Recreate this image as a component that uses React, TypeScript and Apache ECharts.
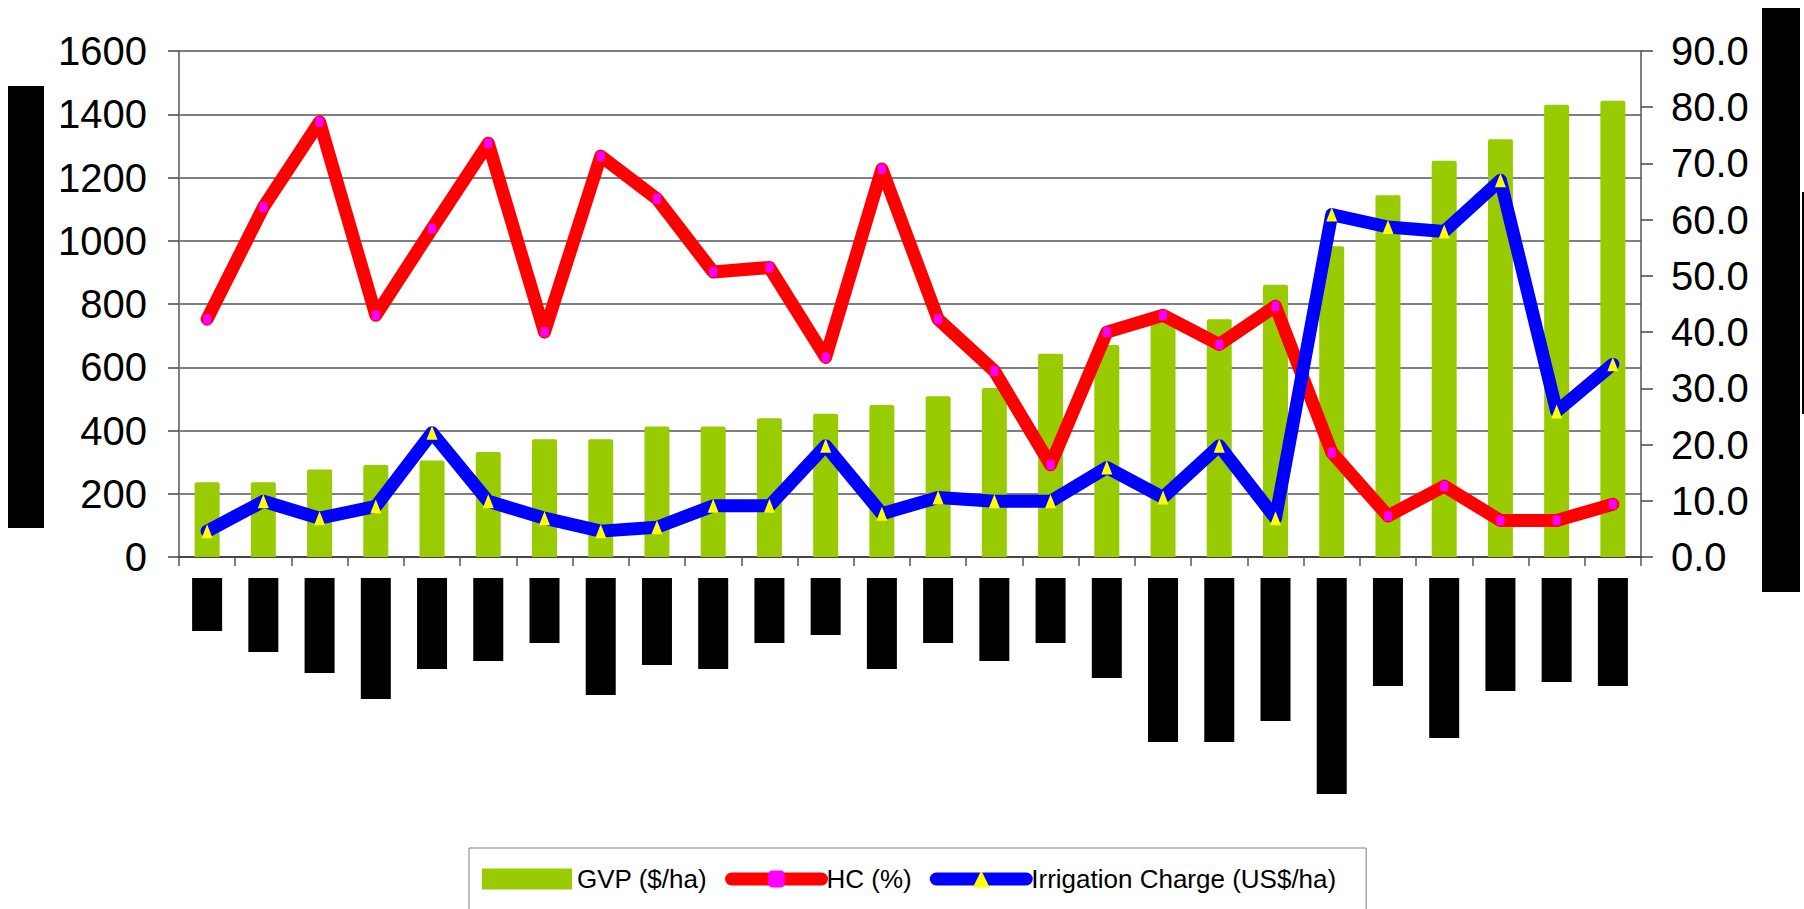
import React, { useEffect, useRef } from "react";
import * as echarts from "echarts";

// Categories (their real names are hidden behind black boxes in the reference)
const categories = [
  "C1", "C2", "C3", "C4", "C5", "C6", "C7", "C8", "C9", "C10", "C11", "C12", "C13",
  "C14", "C15", "C16", "C17", "C18", "C19", "C20", "C21", "C22", "C23", "C24", "C25", "C26",
];
// GVP ($/ha) — left axis
const gvp = [236, 236, 277, 291, 305, 332, 372, 372, 413, 413, 439, 453, 481, 508, 534, 643, 670, 745, 752, 861, 983, 1144, 1253, 1321, 1430, 1443];
// HC (%) — right axis
const hc = [42.3, 62.2, 77.4, 43.0, 58.4, 73.6, 40.0, 71.3, 63.7, 50.7, 51.5, 35.5, 69.0, 42.3, 33.1, 16.4, 40.0, 43.0, 37.8, 44.6, 18.6, 7.3, 12.6, 6.5, 6.5, 9.4];
// Irrigation Charge (US$/ha) — right axis
const irrigation = [4.6, 9.9, 6.9, 9.0, 22.1, 9.9, 6.9, 4.6, 5.3, 9.1, 9.1, 19.8, 7.7, 10.6, 9.9, 9.9, 15.9, 10.6, 19.8, 6.9, 60.9, 58.7, 57.9, 67.0, 25.9, 34.3];
// Lengths of the redacted (blacked-out) category labels
const labelLengths = [53, 74, 95, 121, 91, 83, 65, 117, 87, 91, 65, 57, 91, 65, 83, 65, 100, 164, 164, 143, 216, 108, 160, 113, 104, 108];

const seriesNames = ["GVP ($/ha)", "HC (%)", "Irrigation Charge (US$/ha)"];
const leftTicks = { min: 0, max: 1600, interval: 200 };
const rightTicks = { min: 0, max: 90, interval: 10 };

const FONT = "'Liberation Sans Narrow', 'Arial Narrow', 'Liberation Sans', Arial, sans-serif";

export default function App() {
  const ref = useRef<HTMLDivElement>(null);

  useEffect(() => {
    document.body.style.margin = "0";
    if (!ref.current) return;
    const chart = echarts.init(ref.current, undefined, { renderer: "svg" });

    const rich: Record<string, any> = {};
    labelLengths.forEach((len, i) => {
      rich["c" + i] = {
        width: len,
        height: 30,
        lineHeight: 30,
        backgroundColor: "#000",
        color: "#000",
        fontSize: 12,
        fontFamily: FONT,
      };
    });

    const option: any = {
      animation: false,
      backgroundColor: "#fff",
      textStyle: { fontFamily: FONT },
      grid: { left: 179, right: 163, top: 51, bottom: 352, containLabel: false },
      graphic: [
        { type: "rect", shape: { x: 8, y: 86, width: 36, height: 442 }, style: { fill: "#000" } },
        { type: "rect", shape: { x: 1762, y: 8, width: 38, height: 584 }, style: { fill: "#000" } },
        { type: "rect", shape: { x: 1802, y: 192, width: 2, height: 222 }, style: { fill: "#000" } },
      ],
      legend: {
        left: 469,
        top: 848,
        padding: [18, 30, 40, 13],
        borderColor: "#808080",
        borderWidth: 1,
        backgroundColor: "#fff",
        itemWidth: 90,
        itemHeight: 21,
        itemGap: 18,
        textStyle: { fontSize: 26, color: "#000", fontFamily: FONT },
        data: [
          { name: seriesNames[0], icon: "rect" },
          { name: seriesNames[1], lineStyle: { width: 13, cap: "round", color: "#FF0000" } },
          { name: seriesNames[2], lineStyle: { width: 13, cap: "round", color: "#0000FF" } },
        ],
      },
      xAxis: {
        type: "category",
        data: categories,
        boundaryGap: true,
        axisLine: { show: true, lineStyle: { color: "#333", width: 1.5 } },
        axisTick: { show: true, length: 9, inside: false, alignWithLabel: false, lineStyle: { color: "#555", width: 1.5 } },
        axisLabel: {
          interval: 0,
          rotate: 90,
          margin: 21,
          formatter: (value: string, index: number) => `{c${index}|${value}}`,
          rich,
        },
        splitLine: { show: false },
      },
      yAxis: [
        {
          type: "value",
          position: "left",
          min: leftTicks.min,
          max: leftTicks.max,
          interval: leftTicks.interval,
          axisLine: { show: true, lineStyle: { color: "#808080", width: 2 } },
          axisTick: { show: true, length: 11, inside: false, lineStyle: { color: "#444", width: 1.5 } },
          axisLabel: {
            fontSize: 40,
            color: "#000",
            margin: 32,
            fontFamily: FONT,
            formatter: (v: number) => String(v),
          },
          splitLine: { show: true, lineStyle: { color: "#555", width: 1.5 } },
        },
        {
          type: "value",
          position: "right",
          min: rightTicks.min,
          max: rightTicks.max,
          interval: rightTicks.interval,
          axisLine: { show: true, lineStyle: { color: "#555", width: 1.5 } },
          axisTick: { show: true, length: 12, inside: false, lineStyle: { color: "#444", width: 1.5 } },
          axisLabel: {
            fontSize: 40,
            color: "#000",
            margin: 30,
            fontFamily: FONT,
            formatter: (v: number) => v.toFixed(1),
          },
          splitLine: { show: false },
        },
      ],
      series: [
        {
          name: seriesNames[0],
          type: "bar",
          yAxisIndex: 0,
          data: gvp,
          barWidth: 25,
          itemStyle: { color: "#99CC00", borderRadius: [2, 2, 0, 0] },
          z: 1,
        },
        {
          name: seriesNames[1],
          type: "line",
          yAxisIndex: 1,
          data: hc,
          symbol: "roundRect",
          symbolSize: [8, 10],
          showAllSymbol: true,
          lineStyle: { color: "#FF0000", width: 13, cap: "round", join: "round" },
          itemStyle: { color: "#FF00FF", borderWidth: 0 },
          z: 3,
        },
        {
          name: seriesNames[2],
          type: "line",
          yAxisIndex: 1,
          data: irrigation,
          symbol: "triangle",
          symbolSize: [11, 14],
          showAllSymbol: true,
          lineStyle: { color: "#0000FF", width: 13, cap: "round", join: "round" },
          itemStyle: { color: "#FFFF00", borderWidth: 0 },
          z: 4,
        },
      ],
    };

    chart.setOption(option);
    return () => chart.dispose();
  }, []);

  return (
    <div
      ref={ref}
      style={{ position: "absolute", left: 0, top: 0, width: 1804, height: 909 }}
    />
  );
}
